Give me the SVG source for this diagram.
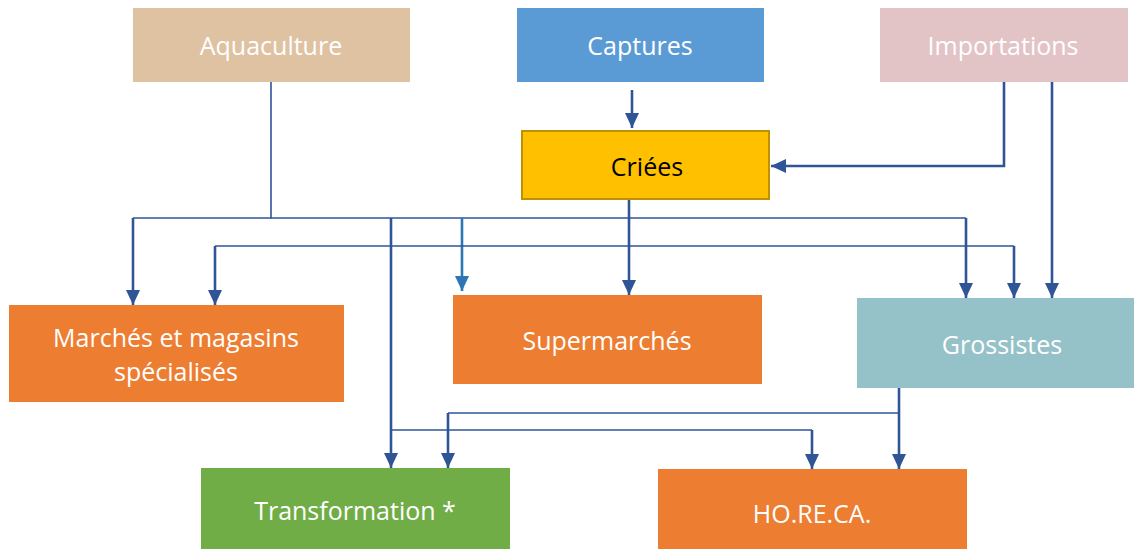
<svg xmlns="http://www.w3.org/2000/svg" width="1134" height="549" viewBox="0 0 1134 549">
<defs>
<style>
.t{font-family:"Open Sans","Liberation Sans",sans-serif;font-size:25px;fill:#fff;text-anchor:middle;dominant-baseline:central}
.k{fill:#000}
.c{fill:none;stroke:#2F5597;stroke-width:1.6}
.w{stroke-width:2.6}
</style>
<marker id="a" viewBox="0 0 15 14" refX="15" refY="7" markerWidth="15" markerHeight="14" markerUnits="userSpaceOnUse" orient="auto">
<path d="M0 0L15 7L0 14Z" fill="#2F5597"/>
</marker>
<marker id="a2" viewBox="0 0 15 14" refX="15" refY="7" markerWidth="15" markerHeight="14" markerUnits="userSpaceOnUse" orient="auto">
<path d="M0 0L15 7L0 14Z" fill="#2E75B6"/>
</marker>
</defs>
<rect width="1134" height="549" fill="#fff"/>
<g id="connectors">
<path class="c" d="M271 82V218H133"/>
<path class="c" d="M271 218H966"/>
<path class="c w" d="M133 218V305" marker-end="url(#a)"/>
<path class="c w" d="M966 218V298" marker-end="url(#a)"/>
<path class="c w" d="M462 218V291" style="stroke:#2E75B6" marker-end="url(#a2)"/>
<path class="c" d="M215 246H1014"/>
<path class="c w" d="M215 246V305" marker-end="url(#a)"/>
<path class="c w" d="M1014 246V298" marker-end="url(#a)"/>
<path class="c w" d="M629 200V295" marker-end="url(#a)"/>
<path class="c w" d="M391 218V468" marker-end="url(#a)"/>
<path class="c" d="M391 430H812"/>
<path class="c w" d="M812 430V469" marker-end="url(#a)"/>
<path class="c w" d="M899 388V469" marker-end="url(#a)"/>
<path class="c" d="M899 413H448"/>
<path class="c w" d="M448 413V468" marker-end="url(#a)"/>
<path class="c w" d="M632 90V128" marker-end="url(#a)"/>
<path class="c w" d="M1004 82V166H771" marker-end="url(#a)"/>
<path class="c w" d="M1052 82V298" marker-end="url(#a)"/>
</g>
<g id="aquaculture"><rect x="133" y="8" width="277" height="74" fill="#DFC2A2"/><text class="t" x="271" y="45">Aquaculture</text></g>
<g id="captures"><rect x="517" y="8" width="247" height="74" fill="#5B9BD5"/><text class="t" x="640" y="45">Captures</text></g>
<g id="importations"><rect x="880" y="8" width="248" height="74" fill="#E2C4C6"/><text class="t" x="1003" y="45">Importations</text></g>
<g id="criees"><rect x="522" y="131" width="247" height="68" fill="#FFC000" stroke="#BF9000" stroke-width="2"/><text class="t k" x="647" y="166">Criées</text></g>
<g id="marches"><rect x="9" y="305" width="335" height="97" fill="#ED7D31"/><text class="t" x="176" y="337">Marchés et magasins</text><text class="t" x="176" y="371">spécialisés</text></g>
<g id="supermarches"><rect x="453" y="295" width="309" height="89" fill="#ED7D31"/><text class="t" x="607" y="340">Supermarchés</text></g>
<g id="grossistes"><rect x="857" y="298" width="277" height="90" fill="#95C2C8"/><text class="t" x="1002" y="344">Grossistes</text></g>
<g id="transformation"><rect x="201" y="468" width="309" height="81" fill="#70AD47"/><text class="t" x="355" y="510">Transformation *</text></g>
<g id="horeca"><rect x="658" y="469" width="309" height="80" fill="#ED7D31"/><text class="t" x="812" y="513">HO.RE.CA.</text></g>
</svg>
